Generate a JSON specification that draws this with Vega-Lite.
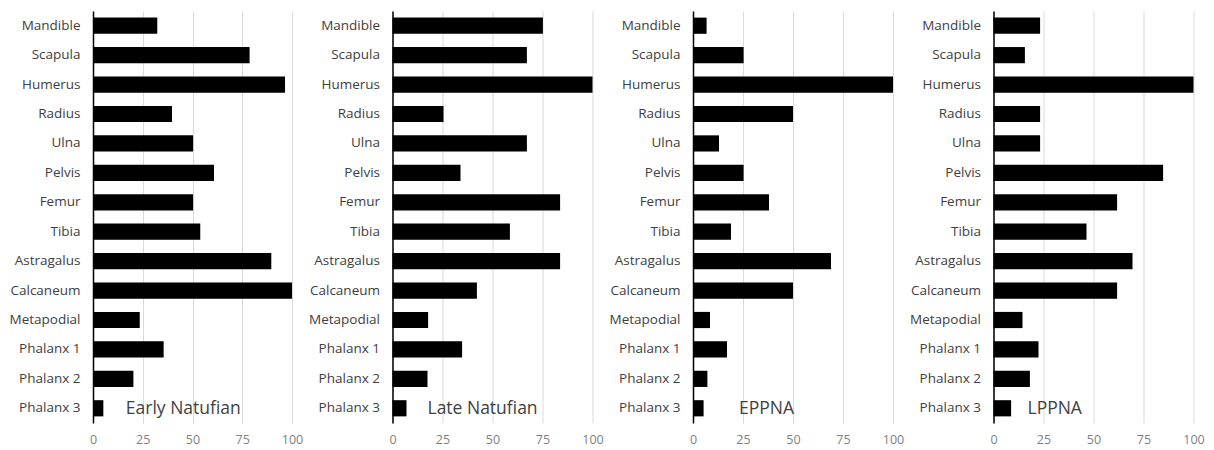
{
  "$schema": "https://vega.github.io/schema/vega-lite/v6.json",
  "autosize": {"type": "pad"},
  "padding": {"left": 3, "top": 11, "right": 0, "bottom": 0},
  "background": "white",
  "spacing": 100.5,
  "bounds": "flush",
  "datasets": {
    "bones": [
      {"period": "Early Natufian", "bone": "Mandible", "value": 32.3},
      {"period": "Early Natufian", "bone": "Scapula", "value": 78.7},
      {"period": "Early Natufian", "bone": "Humerus", "value": 96.5},
      {"period": "Early Natufian", "bone": "Radius", "value": 39.7},
      {"period": "Early Natufian", "bone": "Ulna", "value": 50.3},
      {"period": "Early Natufian", "bone": "Pelvis", "value": 60.8},
      {"period": "Early Natufian", "bone": "Femur", "value": 50.3},
      {"period": "Early Natufian", "bone": "Tibia", "value": 53.9},
      {"period": "Early Natufian", "bone": "Astragalus", "value": 89.6},
      {"period": "Early Natufian", "bone": "Calcaneum", "value": 100},
      {"period": "Early Natufian", "bone": "Metapodial", "value": 23.5},
      {"period": "Early Natufian", "bone": "Phalanx 1", "value": 35.5},
      {"period": "Early Natufian", "bone": "Phalanx 2", "value": 20.3},
      {"period": "Early Natufian", "bone": "Phalanx 3", "value": 5.2},
      {"period": "Late Natufian", "bone": "Mandible", "value": 75.2},
      {"period": "Late Natufian", "bone": "Scapula", "value": 67.2},
      {"period": "Late Natufian", "bone": "Humerus", "value": 100},
      {"period": "Late Natufian", "bone": "Radius", "value": 25.5},
      {"period": "Late Natufian", "bone": "Ulna", "value": 67.2},
      {"period": "Late Natufian", "bone": "Pelvis", "value": 34},
      {"period": "Late Natufian", "bone": "Femur", "value": 83.8},
      {"period": "Late Natufian", "bone": "Tibia", "value": 58.7},
      {"period": "Late Natufian", "bone": "Astragalus", "value": 83.8},
      {"period": "Late Natufian", "bone": "Calcaneum", "value": 42.2},
      {"period": "Late Natufian", "bone": "Metapodial", "value": 17.8},
      {"period": "Late Natufian", "bone": "Phalanx 1", "value": 34.8},
      {"period": "Late Natufian", "bone": "Phalanx 2", "value": 17.5},
      {"period": "Late Natufian", "bone": "Phalanx 3", "value": 7},
      {"period": "EPPNA", "bone": "Mandible", "value": 6.8},
      {"period": "EPPNA", "bone": "Scapula", "value": 25.3},
      {"period": "EPPNA", "bone": "Humerus", "value": 100},
      {"period": "EPPNA", "bone": "Radius", "value": 50},
      {"period": "EPPNA", "bone": "Ulna", "value": 13},
      {"period": "EPPNA", "bone": "Pelvis", "value": 25.3},
      {"period": "EPPNA", "bone": "Femur", "value": 38},
      {"period": "EPPNA", "bone": "Tibia", "value": 19},
      {"period": "EPPNA", "bone": "Astragalus", "value": 69},
      {"period": "EPPNA", "bone": "Calcaneum", "value": 50},
      {"period": "EPPNA", "bone": "Metapodial", "value": 8.5},
      {"period": "EPPNA", "bone": "Phalanx 1", "value": 17},
      {"period": "EPPNA", "bone": "Phalanx 2", "value": 7.2},
      {"period": "EPPNA", "bone": "Phalanx 3", "value": 5.3},
      {"period": "LPPNA", "bone": "Mandible", "value": 23.3},
      {"period": "LPPNA", "bone": "Scapula", "value": 15.7},
      {"period": "LPPNA", "bone": "Humerus", "value": 100},
      {"period": "LPPNA", "bone": "Radius", "value": 23.3},
      {"period": "LPPNA", "bone": "Ulna", "value": 23.3},
      {"period": "LPPNA", "bone": "Pelvis", "value": 84.8},
      {"period": "LPPNA", "bone": "Femur", "value": 61.8},
      {"period": "LPPNA", "bone": "Tibia", "value": 46.5},
      {"period": "LPPNA", "bone": "Astragalus", "value": 69.5},
      {"period": "LPPNA", "bone": "Calcaneum", "value": 61.8},
      {"period": "LPPNA", "bone": "Metapodial", "value": 14.5},
      {"period": "LPPNA", "bone": "Phalanx 1", "value": 22.5},
      {"period": "LPPNA", "bone": "Phalanx 2", "value": 18.2},
      {"period": "LPPNA", "bone": "Phalanx 3", "value": 8.8}
    ]
  },
  "config": {
    "view": {"stroke": null},
    "font": "Open Sans",
    "axisX": {
      "domain": false, "ticks": false, "grid": true, "gridColor": "#d9d9d9", "gridWidth": 1,
      "labelColor": "#7f7f7f", "labelFontSize": 12.5, "labelPadding": 10, "labelFlush": false, "title": null,
      "labelFont": "Open Sans", "minExtent": 0, "maxExtent": 24
    },
    "axisY": {
      "domain": true, "domainColor": "#000000", "domainWidth": 1.5, "ticks": false, "grid": false,
      "labelColor": "#404040", "labelFontSize": 13.5, "labelPadding": 13, "title": null, "labelFont": "Open Sans",
      "minExtent": 90, "maxExtent": 90
    },
    "text": {"font": "Open Sans", "fontSize": 17.5, "color": "#404040", "align": "left", "baseline": "middle"}
  },
  "hconcat": [
    {
      "width": 199, "height": 412,
      "layer": [
        {
          "data": {"name": "bones"},
          "transform": [{"filter": "datum.period === 'Early Natufian'"}],
          "mark": {"type": "bar", "color": "#000000"},
          "encoding": {
            "y": {"field": "bone", "type": "nominal", "sort": null, "scale": {"paddingInner": 0.45, "paddingOuter": 0.225}},
            "x": {"field": "value", "type": "quantitative", "scale": {"domain": [0, 100], "nice": false}, "axis": {"values": [0, 25, 50, 75, 100]}}
          }
        },
        {
          "data": {"values": [{"label": "Early Natufian"}]},
          "mark": {"type": "text", "dy": 1},
          "encoding": {
            "x": {"datum": 16.5, "type": "quantitative"},
            "y": {"datum": "Phalanx 3", "type": "nominal"},
            "text": {"field": "label"}
          }
        }
      ]
    },
    {
      "width": 200, "height": 412,
      "layer": [
        {
          "data": {"name": "bones"},
          "transform": [{"filter": "datum.period === 'Late Natufian'"}],
          "mark": {"type": "bar", "color": "#000000"},
          "encoding": {
            "y": {"field": "bone", "type": "nominal", "sort": null, "scale": {"paddingInner": 0.45, "paddingOuter": 0.225}},
            "x": {"field": "value", "type": "quantitative", "scale": {"domain": [0, 100], "nice": false}, "axis": {"values": [0, 25, 50, 75, 100]}}
          }
        },
        {
          "data": {"values": [{"label": "Late Natufian"}]},
          "mark": {"type": "text", "dy": 1},
          "encoding": {
            "x": {"datum": 17.5, "type": "quantitative"},
            "y": {"datum": "Phalanx 3", "type": "nominal"},
            "text": {"field": "label"}
          }
        }
      ]
    },
    {
      "width": 200, "height": 412,
      "layer": [
        {
          "data": {"name": "bones"},
          "transform": [{"filter": "datum.period === 'EPPNA'"}],
          "mark": {"type": "bar", "color": "#000000"},
          "encoding": {
            "y": {"field": "bone", "type": "nominal", "sort": null, "scale": {"paddingInner": 0.45, "paddingOuter": 0.225}},
            "x": {"field": "value", "type": "quantitative", "scale": {"domain": [0, 100], "nice": false}, "axis": {"values": [0, 25, 50, 75, 100]}}
          }
        },
        {
          "data": {"values": [{"label": "EPPNA"}]},
          "mark": {"type": "text", "dy": 1},
          "encoding": {
            "x": {"datum": 23, "type": "quantitative"},
            "y": {"datum": "Phalanx 3", "type": "nominal"},
            "text": {"field": "label"}
          }
        }
      ]
    },
    {
      "width": 200, "height": 412,
      "layer": [
        {
          "data": {"name": "bones"},
          "transform": [{"filter": "datum.period === 'LPPNA'"}],
          "mark": {"type": "bar", "color": "#000000"},
          "encoding": {
            "y": {"field": "bone", "type": "nominal", "sort": null, "scale": {"paddingInner": 0.45, "paddingOuter": 0.225}},
            "x": {"field": "value", "type": "quantitative", "scale": {"domain": [0, 100], "nice": false}, "axis": {"values": [0, 25, 50, 75, 100]}}
          }
        },
        {
          "data": {"values": [{"label": "LPPNA"}]},
          "mark": {"type": "text", "dy": 1},
          "encoding": {
            "x": {"datum": 17, "type": "quantitative"},
            "y": {"datum": "Phalanx 3", "type": "nominal"},
            "text": {"field": "label"}
          }
        }
      ]
    }
  ]
}
